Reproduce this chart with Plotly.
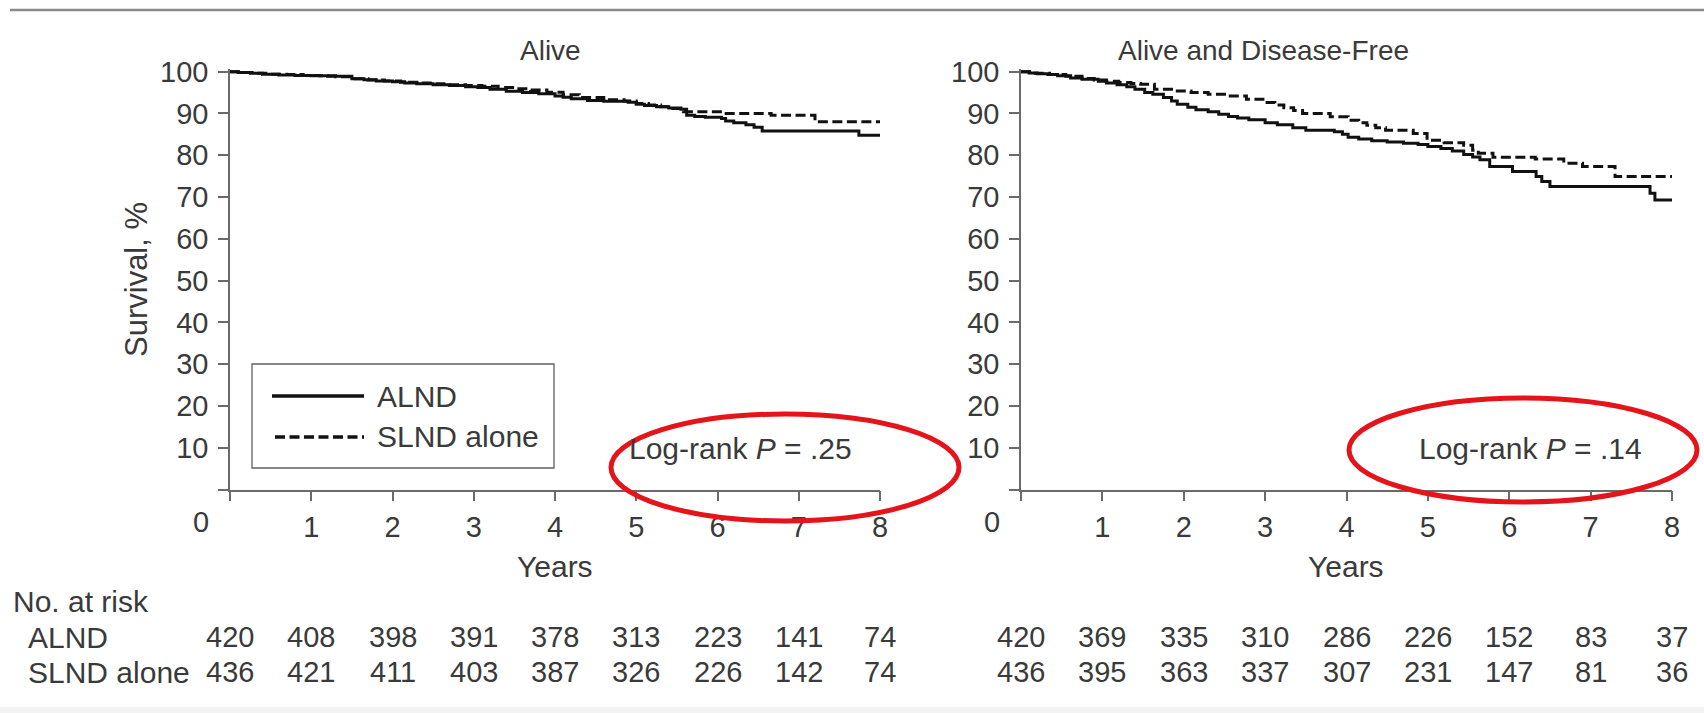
import plotly.graph_objects as go

W, H = 1704, 713

# ---- axis ticks -------------------------------------------------------------
year_ticks = [0, 1, 2, 3, 4, 5, 6, 7, 8]
year_labels = ["", "1", "2", "3", "4", "5", "6", "7", "8"]
surv_ticks = [0, 10, 20, 30, 40, 50, 60, 70, 80, 90, 100]
surv_labels = ["", "10", "20", "30", "40", "50", "60", "70", "80", "90", "100"]

# ---- Kaplan-Meier step data: overall survival ("Alive") ---------------------
alive_alnd_t = [0, 0.1, 0.25, 0.4, 0.6, 0.8, 1.0, 1.2, 1.5, 1.65, 1.8, 2.0, 2.15,
                2.3, 2.5, 2.7, 2.9, 3.05, 3.2, 3.4, 3.6, 3.8, 4.0, 4.1, 4.2, 4.4,
                4.6, 4.9, 5.0, 5.1, 5.25, 5.4, 5.55, 5.62, 5.72, 5.85, 6.05, 6.1,
                6.2, 6.35, 6.45, 6.55, 7.74, 8.0]
alive_alnd_s = [100, 99.8, 99.6, 99.4, 99.2, 99.1, 99.0, 98.9, 98.3, 98.1, 97.8,
                97.6, 97.3, 97.1, 96.9, 96.7, 96.4, 96.2, 95.8, 95.3, 95.0, 94.7,
                94.2, 93.9, 93.5, 93.1, 92.9, 92.7, 92.2, 91.9, 91.6, 91.3, 91.0,
                89.6, 89.3, 89.1, 88.8, 88.2, 87.8, 87.3, 86.7, 85.8, 84.8, 84.8]

alive_slnd_t = [0, 0.15, 0.3, 0.5, 0.7, 0.9, 1.1, 1.3, 1.5, 1.7, 1.9, 2.1, 2.3,
                2.5, 2.7, 2.9, 3.1, 3.3, 3.5, 3.7, 3.9, 4.1, 4.3, 4.6, 4.85, 5.0,
                5.15, 5.3, 5.45, 5.58, 6.06, 6.66, 7.2, 8.0]
alive_slnd_s = [100, 99.8, 99.6, 99.4, 99.3, 99.1, 99.0, 98.8, 98.3, 98.0, 97.8,
                97.5, 97.3, 97.1, 96.9, 96.7, 96.5, 96.2, 95.9, 95.6, 95.1, 94.5,
                93.8, 93.3, 93.0, 92.4, 92.0, 91.6, 91.2, 90.4, 90.0, 89.6, 88.0,
                88.0]

# ---- Kaplan-Meier step data: disease-free survival -------------------------
dfs_alnd_t = [0, 0.1, 0.2, 0.33, 0.45, 0.61, 0.75, 0.95, 1.05, 1.18, 1.3, 1.4,
              1.52, 1.62, 1.75, 1.85, 1.92, 2.05, 2.15, 2.3, 2.43, 2.55, 2.66,
              2.8, 3.0, 3.15, 3.34, 3.5, 3.85, 3.95, 4.02, 4.15, 4.31, 4.5, 4.7,
              4.88, 5.0, 5.16, 5.3, 5.44, 5.55, 5.64, 5.76, 6.04, 6.33, 6.4, 6.5,
              7.73, 7.79, 8.0]
dfs_alnd_s = [100, 99.7, 99.5, 99.3, 99.0, 98.5, 98.2, 97.7, 97.3, 96.9, 96.4,
              95.8, 95.0, 94.6, 93.8, 93.0, 92.2, 91.5, 90.9, 90.4, 89.8, 89.3,
              88.9, 88.5, 87.8, 87.3, 86.6, 86.0, 85.6, 85.0, 84.3, 83.9, 83.5,
              83.2, 82.9, 82.6, 82.1, 81.6, 81.0, 80.2, 79.6, 78.9, 77.3, 76.1,
              74.9, 73.7, 72.5, 70.9, 69.3, 69.3]

dfs_slnd_t = [0, 0.15, 0.35, 0.55, 0.75, 0.9, 1.05, 1.2, 1.35, 1.47, 1.64, 1.85,
              2.09, 2.3, 2.55, 2.77, 3.0, 3.12, 3.23, 3.35, 3.46, 3.8, 4.02, 4.15,
              4.25, 4.36, 4.48, 4.82, 4.99, 5.2, 5.44, 5.55, 5.62, 5.8, 6.32,
              6.67, 6.9, 7.3, 8.0]
dfs_slnd_s = [100, 99.6, 99.3, 98.9, 98.4, 98.0, 97.7, 97.4, 97.2, 97.0, 95.8,
              95.4, 95.0, 94.6, 94.2, 93.4, 92.6, 92.0, 91.4, 90.7, 90.0, 89.2,
              88.4, 87.8, 87.2, 86.6, 86.0, 85.2, 83.6, 83.0, 82.4, 81.2, 80.5,
              79.5, 79.1, 78.1, 77.3, 74.9, 74.9]

# ---- numbers at risk --------------------------------------------------------
groups = ["ALND", "SLND alone"]
risk_alive_alnd = [420, 408, 398, 391, 378, 313, 223, 141, 74]
risk_alive_slnd = [436, 421, 411, 403, 387, 326, 226, 142, 74]
risk_dfs_alnd = [420, 369, 335, 310, 286, 226, 152, 83, 37]
risk_dfs_slnd = [436, 395, 363, 337, 307, 231, 147, 81, 36]

panel_titles = ["Alive", "Alive and Disease-Free"]
pvalues = [".25", ".14"]

# ---- styling ----------------------------------------------------------------
FONT = "Liberation Sans, Arial, Helvetica, sans-serif"
FS_NUM = 29      # tick labels and counts
FS_WORD = 30     # word labels
FS_TITLE = 28    # panel titles
TXT = "#3a3a3a"
AX = "#6a6a6a"
LW = 3
DASH = "10px,4.5px"


def fx(px):
    return px / W


def fy(py):
    return 1 - py / H


# plot-area geometry (pixels)
LEFT_X = (230, 880)
RIGHT_X = (1021, 1672)
Y_BOTTOM, Y_100 = 489.5, 71.7
YMAX = 100.6
y_top = Y_BOTTOM - YMAX * (Y_BOTTOM - Y_100) / 100

fig = go.Figure()

curves = [
    (alive_alnd_t, alive_alnd_s, "x", "y", "solid", "ALND"),
    (alive_slnd_t, alive_slnd_s, "x", "y", DASH, "SLND alone"),
    (dfs_alnd_t, dfs_alnd_s, "x2", "y2", "solid", "ALND"),
    (dfs_slnd_t, dfs_slnd_s, "x2", "y2", DASH, "SLND alone"),
]
for t, s, xa, ya, dash, name in curves:
    fig.add_trace(go.Scatter(
        x=t, y=s, xaxis=xa, yaxis=ya, mode="lines", name=name,
        line=dict(color="#111111", width=LW, dash=dash, shape="hv"),
        showlegend=False, hoverinfo="skip"))

xaxis_common = dict(
    range=[0, 8], tickmode="array", tickvals=year_ticks, ticktext=year_labels,
    showline=True, linecolor=AX, linewidth=1.5, ticks="outside", ticklen=10,
    tickwidth=1.5, tickcolor=AX, showgrid=False, zeroline=False,
    tickfont=dict(family=FONT, size=FS_NUM, color=TXT), ticklabelstandoff=1,
    automargin=False, fixedrange=True)
yaxis_common = dict(
    range=[0, YMAX], tickmode="array", tickvals=surv_ticks, ticktext=surv_labels,
    showline=True, linecolor=AX, linewidth=1.5, ticks="outside", ticklen=10,
    tickwidth=1.5, tickcolor=AX, showgrid=False, zeroline=False,
    tickfont=dict(family=FONT, size=FS_NUM, color=TXT), ticklabelstandoff=4,
    domain=[fy(Y_BOTTOM), fy(y_top)], automargin=False, fixedrange=True)

fig.update_layout(
    width=W, height=H, margin=dict(l=0, r=0, t=0, b=0, pad=0),
    paper_bgcolor="white", plot_bgcolor="white", showlegend=False,
    xaxis=dict(domain=[fx(LEFT_X[0]), fx(LEFT_X[1])], anchor="y", **xaxis_common),
    yaxis=dict(anchor="x", **yaxis_common),
    xaxis2=dict(domain=[fx(RIGHT_X[0]), fx(RIGHT_X[1])], anchor="y2", **xaxis_common),
    yaxis2=dict(anchor="x2", **yaxis_common),
)

ann = []


def text(x, y, s, xanchor="center", size=FS_WORD, angle=0):
    ann.append(dict(x=fx(x), y=fy(y), xref="paper", yref="paper", text=s,
                    showarrow=False, xanchor=xanchor, yanchor="middle",
                    textangle=angle,
                    font=dict(family=FONT, size=size, color=TXT)))


# panel titles
text(550, 51, panel_titles[0], size=FS_TITLE)
text(1263, 51, panel_titles[1], size=FS_TITLE)

# axis titles and the shared origin labels
text(136, 280, "Survival, %", angle=-90, size=31)
text(555, 566, "Years")
text(1346, 566, "Years")
text(201, 522, "0", size=FS_NUM)
text(992, 522, "0", size=FS_NUM)

# log-rank annotations
text(627, 448, "Log-rank <i>P</i> = " + pvalues[0], xanchor="left")
text(1417, 448, "Log-rank <i>P</i> = " + pvalues[1], xanchor="left")

# numbers at risk table
text(11, 601, "No. at risk", xanchor="left")
text(26, 637, groups[0], xanchor="left")
text(26, 672, groups[1], xanchor="left")
for (x0, x1), rows in [(LEFT_X, (risk_alive_alnd, risk_alive_slnd)),
                       (RIGHT_X, (risk_dfs_alnd, risk_dfs_slnd))]:
    step = (x1 - x0) / 8
    for yrow, vals in zip((637, 672), rows):
        for i, v in enumerate(vals):
            text(x0 + i * step, yrow, str(v), size=FS_NUM)

# legend entries
text(375, 396, groups[0], xanchor="left")
text(375, 436, groups[1], xanchor="left")

shapes = [
    # rule across the top
    dict(type="line", xref="paper", yref="paper", x0=fx(10), x1=1, y0=fy(10), y1=fy(10),
         line=dict(color="#8a8a8a", width=2.5)),
    # faint band along the bottom edge
    dict(type="rect", xref="paper", yref="paper", x0=0, x1=1, y0=0, y1=fy(707),
         line=dict(width=0), fillcolor="#f3f3f3"),
    # legend frame and samples
    dict(type="rect", xref="paper", yref="paper", x0=fx(252), x1=fx(554),
         y0=fy(468), y1=fy(364), line=dict(color="#606060", width=1.3)),
    dict(type="line", xref="paper", yref="paper", x0=fx(272), x1=fx(364),
         y0=fy(396), y1=fy(396), line=dict(color="#111111", width=3.4)),
    dict(type="line", xref="paper", yref="paper", x0=fx(275), x1=fx(364),
         y0=fy(437), y1=fy(437), line=dict(color="#111111", width=3.4, dash=DASH)),
    # red highlight ellipses round the p-values
    dict(type="circle", xref="paper", yref="paper", x0=fx(611), x1=fx(959),
         y0=fy(521), y1=fy(414), line=dict(color="#e5141b", width=5)),
    dict(type="circle", xref="paper", yref="paper", x0=fx(1349), x1=fx(1697),
         y0=fy(502), y1=fy(398), line=dict(color="#e5141b", width=5)),
]

fig.update_layout(annotations=ann, shapes=shapes)
fig.write_html("out.html")
